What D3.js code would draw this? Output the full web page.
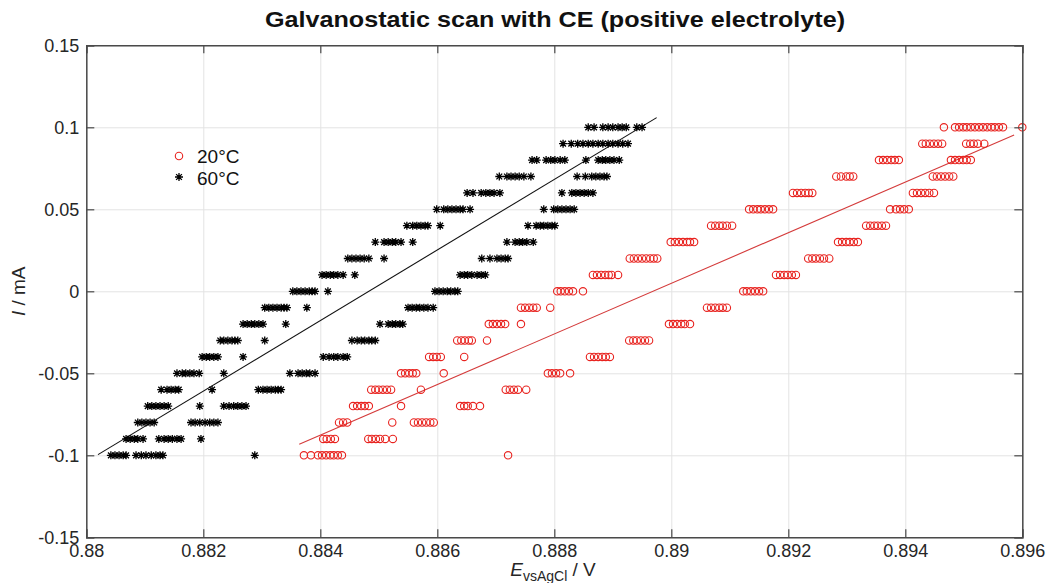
<!DOCTYPE html>
<html><head><meta charset="utf-8">
<script src="https://cdn.jsdelivr.net/npm/d3@7"></script>
<style>
body{margin:0;background:#fff;}
text{font-family:"Liberation Sans",Arial,Helvetica,sans-serif;}
</style>
</head><body>
<svg id="chart" width="1051" height="583"></svg>
<script>
const titleText = "Galvanostatic scan with CE (positive electrolyte)";
const seriesNames = ["20°C", "60°C"];
const currentLevels = [-0.1,-0.09,-0.08,-0.07,-0.06,-0.05,-0.04,-0.03,-0.02,-0.01,0,0.01,0.02,0.03,0.04,0.05,0.06,0.07,0.08,0.09,0.1];
const xTicks = [0.88,0.882,0.884,0.886,0.888,0.89,0.892,0.894,0.896];
const xTickLabels = ["0.88","0.882","0.884","0.886","0.888","0.89","0.892","0.894","0.896"];
const yTicks = [-0.15,-0.1,-0.05,0,0.05,0.1,0.15];
const yTickLabels = ["-0.15","-0.1","-0.05","0","0.05","0.1","0.15"];

// 60°C potentials (V) per current level (same order as currentLevels)
const e60ByLevel = [
 [0.88042,0.88049,0.88056,0.88063,0.88068,0.88085,0.88094,0.88102,0.88111,0.88119,0.88126,0.88131,0.88288],
 [0.88068,0.88075,0.88082,0.88088,0.88097,0.88124,0.88133,0.88140,0.88147,0.88155,0.88162,0.88196],
 [0.88088,0.88095,0.88102,0.88109,0.88116,0.88179,0.88186,0.88194,0.88203,0.88211,0.88218,0.88225],
 [0.88105,0.88112,0.88119,0.88126,0.88133,0.88140,0.88194,0.88235,0.88244,0.88252,0.88259,0.88266,0.88273],
 [0.88128,0.88138,0.88145,0.88152,0.88158,0.88215,0.88294,0.88302,0.88309,0.88316,0.88323,0.88328,0.88333],
 [0.88155,0.88164,0.88170,0.88177,0.88184,0.88193,0.88235,0.88348,0.88362,0.88369,0.88376,0.88382,0.88391],
 [0.88198,0.88205,0.88211,0.88218,0.88225,0.88268,0.88405,0.88415,0.88423,0.88430,0.88439,0.88446],
 [0.88229,0.88235,0.88242,0.88249,0.88254,0.88259,0.88305,0.88454,0.88463,0.88470,0.88476,0.88483,0.88488,0.88494],
 [0.88268,0.88275,0.88282,0.88288,0.88295,0.88302,0.88341,0.88502,0.88516,0.88523,0.88529,0.88536,0.88541],
 [0.88305,0.88312,0.88319,0.88326,0.88333,0.88338,0.88343,0.88377,0.88550,0.88557,0.88564,0.88570,0.88577,0.88584,0.88593],
 [0.88353,0.88360,0.88367,0.88374,0.88381,0.88386,0.88391,0.88413,0.88596,0.88603,0.88610,0.88617,0.88623,0.88630,0.88635],
 [0.88403,0.88410,0.88417,0.88423,0.88430,0.88439,0.88459,0.88639,0.88646,0.88652,0.88659,0.88668,0.88675,0.88682],
 [0.88447,0.88454,0.88461,0.88468,0.88475,0.88483,0.88509,0.88676,0.88690,0.88702,0.88709,0.88716,0.88721],
 [0.88494,0.88509,0.88516,0.88523,0.88529,0.88538,0.88558,0.88719,0.88733,0.88740,0.88746,0.88753,0.88764],
 [0.88548,0.88558,0.88565,0.88572,0.88579,0.88584,0.88605,0.88755,0.88769,0.88776,0.88782,0.88789,0.88796,0.88801],
 [0.88599,0.88611,0.88618,0.88625,0.88632,0.88639,0.88644,0.88656,0.88782,0.88799,0.88806,0.88813,0.88820,0.88827,0.88834],
 [0.88651,0.88661,0.88675,0.88683,0.88690,0.88697,0.88707,0.88813,0.88830,0.88837,0.88844,0.88851,0.88858,0.88866],
 [0.88706,0.88719,0.88726,0.88733,0.88740,0.88748,0.88760,0.88839,0.88853,0.88864,0.88871,0.88878,0.88885,0.88890],
 [0.88762,0.88770,0.88786,0.88794,0.88801,0.88810,0.88818,0.88854,0.88875,0.88882,0.88888,0.88895,0.88902,0.88911],
 [0.88815,0.88829,0.88840,0.88849,0.88858,0.88866,0.88875,0.88883,0.88892,0.88900,0.88909,0.88917,0.88926],
 [0.88858,0.88868,0.88883,0.88892,0.88900,0.88909,0.88916,0.88923,0.88941,0.88950]
];

// 20°C potentials (V) per current level
const e20ByLevel = [
 [0.88372,0.88384,0.88396,0.88403,0.88410,0.88417,0.88423,0.88430,0.88437,0.88721],
 [0.88405,0.88411,0.88418,0.88425,0.88482,0.88488,0.88495,0.88502,0.88511,0.88524],
 [0.88432,0.88439,0.88446,0.88523,0.88560,0.88567,0.88574,0.88581,0.88588,0.88594],
 [0.88456,0.88463,0.88470,0.88476,0.88483,0.88538,0.88639,0.88646,0.88652,0.88661,0.88673],
 [0.88487,0.88494,0.88500,0.88507,0.88514,0.88521,0.88572,0.88717,0.88724,0.88731,0.88738,0.88752],
 [0.88538,0.88545,0.88552,0.88558,0.88564,0.88611,0.88789,0.88796,0.88803,0.88810,0.88827],
 [0.88586,0.88593,0.88599,0.88606,0.88646,0.88861,0.88868,0.88875,0.88882,0.88888,0.88895],
 [0.88634,0.88641,0.88647,0.88654,0.88659,0.88685,0.88928,0.88935,0.88941,0.88948,0.88955,0.88962],
 [0.88688,0.88695,0.88702,0.88709,0.88716,0.88743,0.88996,0.89003,0.89010,0.89017,0.89023,0.89032],
 [0.88743,0.88750,0.88757,0.88764,0.88770,0.88793,0.89061,0.89068,0.89075,0.89082,0.89088,0.89095],
 [0.88805,0.88811,0.88818,0.88825,0.88832,0.88849,0.89123,0.89129,0.89136,0.89143,0.89150,0.89157],
 [0.88866,0.88873,0.88880,0.88887,0.88893,0.88898,0.88909,0.89179,0.89186,0.89193,0.89199,0.89206,0.89213],
 [0.88929,0.88936,0.88943,0.88950,0.88957,0.88964,0.88970,0.88976,0.89234,0.89241,0.89247,0.89254,0.89261,0.89270],
 [0.88999,0.89006,0.89013,0.89020,0.89027,0.89032,0.89039,0.89285,0.89292,0.89299,0.89305,0.89312,0.89319],
 [0.89068,0.89075,0.89082,0.89088,0.89095,0.89104,0.89333,0.89340,0.89347,0.89353,0.89360,0.89367],
 [0.89133,0.89140,0.89147,0.89153,0.89160,0.89167,0.89174,0.89374,0.89384,0.89391,0.89398,0.89406],
 [0.89208,0.89215,0.89222,0.89229,0.89235,0.89241,0.89413,0.89420,0.89427,0.89434,0.89441,0.89449],
 [0.89282,0.89290,0.89299,0.89305,0.89311,0.89447,0.89454,0.89461,0.89468,0.89475,0.89482],
 [0.89355,0.89362,0.89369,0.89376,0.89382,0.89389,0.89478,0.89485,0.89492,0.89499,0.89505,0.89512],
 [0.89429,0.89435,0.89442,0.89449,0.89456,0.89463,0.89504,0.89511,0.89517,0.89524,0.89535],
 [0.89466,0.89485,0.89492,0.89499,0.89505,0.89512,0.89519,0.89526,0.89533,0.89540,0.89547,0.89553,0.89560,0.89567,0.89600]
];

// linear fit endpoints
const fit20E = [0.88364, 0.89586];
const fit20I = [-0.0933, 0.0953];
const fit60E = [0.88020, 0.88975];
const fit60I = [-0.0996, 0.1059];

const svg = d3.select("#chart");
const L = 86.3, R = 1022.3, T = 45.3, B = 537.3;
const x = d3.scaleLinear().domain([0.88, 0.896]).range([L, R]);
const y = d3.scaleLinear().domain([-0.15, 0.15]).range([B, T]);
const axisColor = "#4a4a4a";
const gridColor = "#e3e3e3";

// grid
const gGrid = svg.append("g");
gGrid.append("g").attr("transform", `translate(0,${B})`)
  .call(d3.axisBottom(x).tickValues(xTicks).tickSize(-(B - T)).tickFormat(""))
  .call(g => g.select(".domain").remove())
  .call(g => g.selectAll("line").attr("stroke", gridColor).attr("stroke-width", 1));
gGrid.append("g").attr("transform", `translate(${L},0)`)
  .call(d3.axisLeft(y).tickValues(yTicks).tickSize(-(R - L)).tickFormat(""))
  .call(g => g.select(".domain").remove())
  .call(g => g.selectAll("line").attr("stroke", gridColor).attr("stroke-width", 1));

// data
const pts20 = [], pts60 = [];
currentLevels.forEach((lv, k) => {
  e20ByLevel[k].forEach(e => pts20.push([e, lv]));
  e60ByLevel[k].forEach(e => pts60.push([e, lv]));
});

const line = d3.line().x(d => x(d[0])).y(d => y(d[1]));
svg.append("path").datum(fit60E.map((e, i) => [e, fit60I[i]]))
  .attr("d", line).attr("stroke", "#111").attr("stroke-width", 1.1).attr("fill", "none");
svg.append("path").datum(fit20E.map((e, i) => [e, fit20I[i]]))
  .attr("d", line).attr("stroke", "#d43b3b").attr("stroke-width", 1.1).attr("fill", "none");

const starPath = (r) => `M${-r},0L${r},0M0,${-r}L0,${r}M${-r*0.72},${-r*0.72}L${r*0.72},${r*0.72}M${-r*0.72},${r*0.72}L${r*0.72},${-r*0.72}`;

svg.append("g").selectAll("path").data(pts60).join("path")
  .attr("transform", d => `translate(${x(d[0])},${y(d[1])})`)
  .attr("d", starPath(4)).attr("stroke", "#000").attr("stroke-width", 1.3).attr("fill", "none");

svg.append("g").selectAll("circle").data(pts20).join("circle")
  .attr("cx", d => x(d[0])).attr("cy", d => y(d[1])).attr("r", 3.7)
  .attr("fill", "none").attr("stroke", "#e8231f").attr("stroke-width", 1.1);

// axes
const tickLen = 8;
const ax = svg.append("g").attr("transform", `translate(0,${B})`)
  .call(d3.axisBottom(x).tickValues(xTicks).tickFormat((d, i) => xTickLabels[i]).tickSize(-tickLen).tickPadding(7));
const ay = svg.append("g").attr("transform", `translate(${L},0)`)
  .call(d3.axisLeft(y).tickValues(yTicks).tickFormat((d, i) => yTickLabels[i]).tickSize(-tickLen).tickPadding(7));
const axTop = svg.append("g").attr("transform", `translate(0,${T})`)
  .call(d3.axisTop(x).tickValues(xTicks).tickFormat("").tickSize(-tickLen));
const ayR = svg.append("g").attr("transform", `translate(${R},0)`)
  .call(d3.axisRight(y).tickValues(yTicks).tickFormat("").tickSize(-tickLen));
[ax, ay, axTop, ayR].forEach(g => {
  g.select(".domain").attr("stroke", axisColor).attr("stroke-width", 1.5);
  g.selectAll(".tick line").attr("stroke", axisColor).attr("stroke-width", 1.2);
  g.selectAll(".tick text").attr("fill", "#262626").style("font-size", "18px");
});

// title
svg.append("text").attr("x", 555).attr("y", 27).attr("text-anchor", "middle")
  .attr("textLength", 580).attr("lengthAdjust", "spacingAndGlyphs")
  .style("font-size", "22px").style("font-weight", "bold").attr("fill", "#111").text(titleText);

// x label
const xl = svg.append("text").attr("x", 553).attr("y", 576).attr("text-anchor", "middle")
  .attr("fill", "#262626").style("font-size", "19px");
xl.append("tspan").style("font-style", "italic").text("E");
xl.append("tspan").attr("dy", 5).style("font-size", "14px").text("vsAgCl");
xl.append("tspan").attr("dy", -5).text(" / V");

// y label
const yl = svg.append("text").attr("transform", `translate(25,${(T + B) / 2}) rotate(-90)`)
  .attr("text-anchor", "middle").attr("fill", "#262626").style("font-size", "19px");
yl.append("tspan").style("font-style", "italic").text("I");
yl.append("tspan").text(" / mA");

// legend
const leg = svg.append("g");
leg.append("circle").attr("cx", 179).attr("cy", 156).attr("r", 3.7)
  .attr("fill", "none").attr("stroke", "#e8231f").attr("stroke-width", 1.1);
leg.append("path").attr("transform", "translate(179,177)").attr("d", starPath(4))
  .attr("stroke", "#000").attr("stroke-width", 1.3);
leg.append("text").attr("x", 197).attr("y", 162.5).style("font-size", "19px").attr("fill", "#111").text(seriesNames[0]);
leg.append("text").attr("x", 197).attr("y", 184.5).style("font-size", "19px").attr("fill", "#111").text(seriesNames[1]);
</script>
</body></html>
